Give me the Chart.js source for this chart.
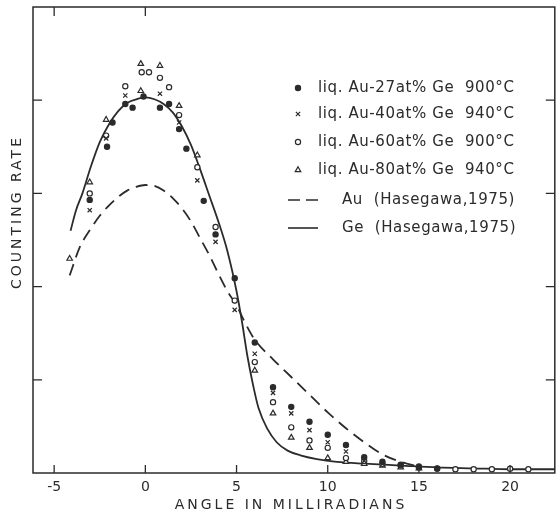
<!DOCTYPE html>
<html>
<head>
<meta charset="utf-8">
<script src="https://cdn.jsdelivr.net/npm/chart.js@4.4.1/dist/chart.umd.min.js"></script>
<style>
  html, body { margin: 0; padding: 0; background: #fff; }
</style>
</head>
<body>
<canvas id="chart" width="560" height="515"></canvas>
<script>
// tick values
const angleTicks = [-5, 0, 5, 10, 15, 20];
const topTicks = [-5, 0];
const rateTicks = [1, 2, 3, 4];

const au27 = [[-3.05, 2.93], [-2.1, 3.5], [-1.8, 3.76], [-1.1, 3.96], [-0.7, 3.92], [-0.1, 4.04],
  [0.8, 3.92], [1.3, 3.96], [1.85, 3.69], [2.25, 3.48], [3.2, 2.92], [3.85, 2.56], [4.9, 2.09],
  [6, 1.4], [7, 0.92], [8, 0.71], [9, 0.55], [10, 0.41], [11, 0.3], [12, 0.17], [13, 0.12],
  [14, 0.09], [15, 0.07], [16, 0.05]];
const au40 = [[-3.05, 2.82], [-2.15, 3.59], [-1.1, 4.05], [0.8, 4.07], [1.85, 3.76], [2.85, 3.14],
  [3.85, 2.48], [4.9, 1.75], [6, 1.28], [7, 0.86], [8, 0.64], [9, 0.46], [10, 0.33], [11, 0.23],
  [12, 0.13], [13, 0.1], [14, 0.08], [15, 0.06]];
const au60 = [[-3.05, 3.0], [-2.15, 3.62], [-1.1, 4.15], [-0.2, 4.3], [0.2, 4.3], [0.8, 4.24],
  [1.3, 4.14], [1.85, 3.84], [2.85, 3.28], [3.85, 2.64], [4.9, 1.85], [6, 1.19], [7, 0.76],
  [8, 0.49], [9, 0.35], [10, 0.27], [11, 0.16], [12, 0.13], [13, 0.1], [14, 0.08], [15, 0.06],
  [16, 0.045], [17, 0.04], [18, 0.04], [19, 0.04], [20, 0.045], [21, 0.04]];
const au80 = [[-4.15, 2.3], [-3.05, 3.12], [-2.15, 3.79], [-0.25, 4.39], [-0.25, 4.1], [0.8, 4.37],
  [1.85, 3.94], [2.85, 3.41], [6, 1.1], [7, 0.64], [8, 0.38], [9, 0.27], [10, 0.16], [11, 0.12],
  [12, 0.1], [13, 0.08], [14, 0.06], [15, 0.05]];

// reference curves (Hasegawa, 1975)
const auCurve = [[-4.15, 2.12], [-3.6, 2.42], [-3, 2.62], [-2.5, 2.76], [-2, 2.87], [-1.5, 2.96],
  [-1, 3.03], [-0.5, 3.07], [0, 3.09], [0.5, 3.08], [1, 3.03], [1.5, 2.95], [2, 2.84], [2.5, 2.7],
  [3, 2.52], [3.5, 2.34], [4, 2.14], [4.5, 1.95], [5, 1.8], [5.5, 1.6], [6, 1.43], [7, 1.22],
  [8, 1.03], [9, 0.84], [10, 0.65], [11, 0.48], [12, 0.33], [13, 0.2], [14, 0.12], [15, 0.07]];
const geCurve = [[-4.1, 2.6], [-3.8, 2.82], [-3.45, 3.0], [-3, 3.28], [-2.5, 3.55], [-2, 3.74],
  [-1.5, 3.88], [-1, 3.97], [-0.5, 4.01], [0, 4.03], [0.5, 4.01], [1, 3.96], [1.5, 3.87],
  [2, 3.72], [2.5, 3.52], [3, 3.26], [3.5, 2.98], [4, 2.7], [4.5, 2.38], [5, 1.95], [5.3, 1.62],
  [5.6, 1.25], [5.9, 0.95], [6.2, 0.7], [6.7, 0.47], [7.2, 0.33], [7.8, 0.24], [8.5, 0.19],
  [9.4, 0.15], [10.5, 0.12], [12, 0.1], [14, 0.08], [16, 0.06], [18, 0.05], [20, 0.04], [22.5, 0.04]];

const legendLabels = ['liq. Au-27at% Ge  900°C', 'liq. Au-40at% Ge  940°C',
  'liq. Au-60at% Ge  900°C', 'liq. Au-80at% Ge  940°C', 'Au  (Hasegawa,1975)', 'Ge  (Hasegawa,1975)'];

const ink = '#2b2b2b';
const toXY = arr => arr.map(p => ({ x: p[0], y: p[1] }));

function pointSet(label, data, style, radius, fill) {
  return {
    label, data: toXY(data), pointStyle: style, pointRadius: radius,
    pointBackgroundColor: fill, pointBorderColor: ink, pointBorderWidth: 1.2, showLine: false
  };
}

const legendStyles = [
  { pointStyle: 'circle', radius: 2.6, fill: ink },
  { pointStyle: 'crossRot', radius: 3, fill: ink },
  { pointStyle: 'circle', radius: 2.6, fill: '#fff' },
  { pointStyle: 'triangle', radius: 3.2, fill: '#fff' }
];

// frame, inward ticks, axis titles, legend
const decorations = {
  id: 'decorations',
  afterDraw(chart) {
    const { ctx, chartArea: a, scales: { x, y } } = chart;
    ctx.save();
    ctx.strokeStyle = ink;
    ctx.lineWidth = 1.5;
    ctx.strokeRect(a.left, a.top, a.right - a.left, a.bottom - a.top);
    ctx.lineWidth = 1.3;
    ctx.beginPath();
    angleTicks.forEach(v => {
      const px = x.getPixelForValue(v);
      ctx.moveTo(px, a.bottom); ctx.lineTo(px, a.bottom - 8);
    });
    topTicks.forEach(v => {
      const px = x.getPixelForValue(v);
      ctx.moveTo(px, a.top); ctx.lineTo(px, a.top + 9);
    });
    rateTicks.forEach(v => {
      const py = y.getPixelForValue(v);
      ctx.moveTo(a.left, py); ctx.lineTo(a.left + 9, py);
      ctx.moveTo(a.right, py); ctx.lineTo(a.right - 9, py);
    });
    ctx.stroke();

    // axis titles
    ctx.fillStyle = ink;
    ctx.font = '14px "DejaVu Sans"';
    ctx.letterSpacing = '3px';
    ctx.textAlign = 'center';
    ctx.textBaseline = 'middle';
    ctx.fillText('ANGLE IN MILLIRADIANS', 291, 505);
    ctx.save();
    ctx.translate(17, 212);
    ctx.rotate(-Math.PI / 2);
    ctx.fillText('COUNTING RATE', 0, 0);
    ctx.restore();

    // legend
    ctx.font = '15px "DejaVu Sans"';
    ctx.letterSpacing = '0.6px';
    ctx.textAlign = 'left';
    const rows = [88, 114, 142, 170, 200, 228];
    legendLabels.forEach((txt, i) => {
      const ry = rows[i];
      if (i < 4) {
        const s = legendStyles[i];
        ctx.fillStyle = s.fill;
        ctx.strokeStyle = ink;
        ctx.lineWidth = 1.2;
        Chart.helpers.drawPoint(ctx, { pointStyle: s.pointStyle, radius: s.radius, rotation: 0, borderWidth: 1.2 }, 298, ry);
        ctx.fillStyle = ink;
        ctx.fillText(txt, 318, ry);
      } else {
        ctx.strokeStyle = ink;
        ctx.lineWidth = 1.6;
        ctx.setLineDash(i === 4 ? [12, 6] : []);
        ctx.beginPath();
        ctx.moveTo(288, ry); ctx.lineTo(318, ry);
        ctx.stroke();
        ctx.setLineDash([]);
        ctx.fillStyle = ink;
        ctx.fillText(txt, 342, ry);
      }
    });
    ctx.restore();
  }
};

new Chart(document.getElementById('chart'), {
  type: 'scatter',
  data: {
    datasets: [
      pointSet('Au-27', au27, 'circle', 2.6, ink),
      pointSet('Au-40', au40, 'crossRot', 3, ink),
      pointSet('Au-60', au60, 'circle', 2.6, '#fff'),
      pointSet('Au-80', au80, 'triangle', 3.2, '#fff'),
      {
        label: 'Au (Hasegawa,1975)', data: toXY(auCurve), showLine: true, pointRadius: 0,
        borderColor: ink, borderWidth: 1.8, borderDash: [12, 7], cubicInterpolationMode: 'monotone'
      },
      {
        label: 'Ge (Hasegawa,1975)', data: toXY(geCurve), showLine: true, pointRadius: 0,
        borderColor: ink, borderWidth: 1.8, cubicInterpolationMode: 'monotone'
      }
    ]
  },
  options: {
    responsive: false,
    animation: false,
    devicePixelRatio: 1,
    layout: { padding: { top: 7, right: 2, left: 0, bottom: 0 } },
    plugins: { legend: { display: false }, tooltip: { enabled: false } },
    scales: {
      x: {
        type: 'linear', min: -6.16, max: 22.45,
        afterFit: s => { s.height = 42; },
        afterBuildTicks: s => { s.ticks = angleTicks.map(v => ({ value: v })); },
        grid: { display: false, drawTicks: false },
        border: { display: false },
        ticks: { padding: 6, color: ink, font: { family: 'DejaVu Sans', size: 14 }, maxRotation: 0, autoSkip: false }
      },
      y: {
        type: 'linear', min: 0, max: 5,
        afterFit: s => { s.width = 33; },
        afterBuildTicks: s => { s.ticks = rateTicks.map(v => ({ value: v })); },
        grid: { display: false, drawTicks: false },
        border: { display: false },
        ticks: { display: false }
      }
    }
  },
  plugins: [decorations]
});
</script>
</body>
</html>
